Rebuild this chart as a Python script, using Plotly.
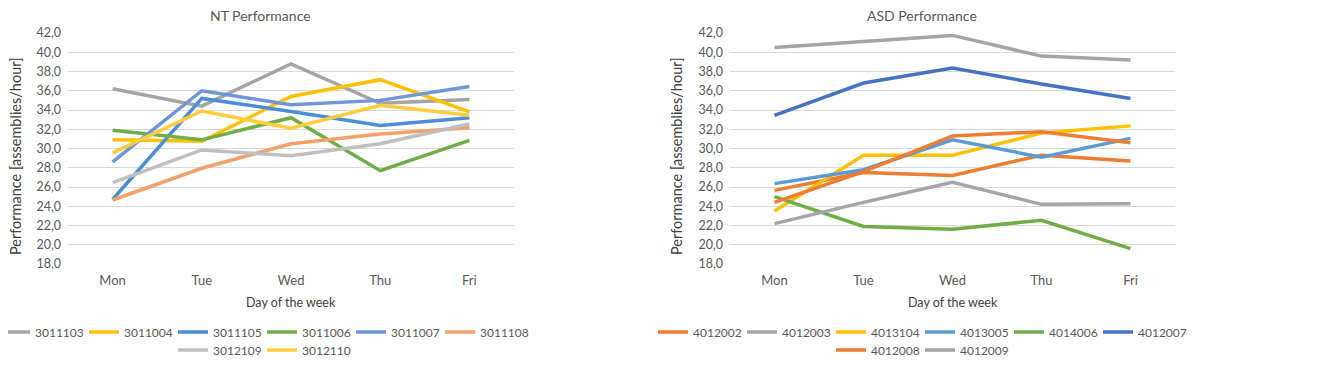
import plotly.graph_objects as go

days = ["Mon", "Tue", "Wed", "Thu", "Fri"]

nt_ids = ["3011103", "3011004", "3011105", "3011006", "3011007", "3011108", "3012109", "3012110"]
nt_values = [
    [36.2, 34.4, 38.8, 34.7, 35.1],
    [30.9, 30.75, 35.4, 37.15, 33.8],
    [24.7, 35.2, 33.85, 32.4, 33.2],
    [31.9, 30.9, 33.2, 27.7, 30.85],
    [28.6, 36.0, 34.55, 35.0, 36.45],
    [24.65, 27.95, 30.5, 31.5, 32.15],
    [26.45, 29.85, 29.25, 30.5, 32.55],
    [29.55, 33.9, 32.1, 34.5, 33.45],
]
nt_colors = ["#A5A5A5", "#FFC000", "#4A8FD6", "#70AD47", "#7096DA", "#F4A06A", "#BFBFBF", "#FFCD3C"]

asd_ids = ["4012002", "4012003", "4013104", "4013005", "4014006", "4012007", "4012008", "4012009"]
asd_values = [
    [25.65, 27.5, 27.2, 29.3, 28.7],
    [40.5, 41.1, 41.75, 39.6, 39.2],
    [23.5, 29.3, 29.3, 31.6, 32.35],
    [26.35, 27.8, 30.9, 29.1, 31.05],
    [25.0, 21.9, 21.6, 22.55, 19.6],
    [33.45, 36.8, 38.35, 36.7, 35.2],
    [24.4, 27.6, 31.3, 31.75, 30.6],
    [22.2, 24.4, 26.5, 24.2, 24.25],
]
asd_colors = ["#ED7D31", "#A5A5A5", "#FFC000", "#5B9BD5", "#70AD47", "#4472C4", "#ED7D31", "#A5A5A5"]

chart_titles = ["NT Performance", "ASD Performance"]
x_title = "Day of the week"
y_title = "Performance [assemblies/hour]"

# page body has an 8px default margin, so the figure starts at (8, 8)
OFF = 8
W, H = 1325 - OFF, 366 - OFF
FONT = "Lato"
TXT = "#595959"

def px(x):
    return (x - OFF) / W

def py(y):
    return 1 - (y - OFF) / H

fig = go.Figure()

dom_left = [px(68), px(514)]
dom_right = [px(730), px(1175)]
dom_y = [py(264), py(33)]

for i, (name, vals, col) in enumerate(zip(nt_ids, nt_values, nt_colors)):
    fig.add_trace(go.Scatter(
        x=days, y=vals, name=name, mode="lines",
        line=dict(color=col, width=3.5),
        xaxis="x", yaxis="y",
        legend="legend" if i < 6 else "legend2",
    ))

for i, (name, vals, col) in enumerate(zip(asd_ids, asd_values, asd_colors)):
    fig.add_trace(go.Scatter(
        x=days, y=vals, name=name, mode="lines",
        line=dict(color=col, width=3.5),
        xaxis="x2", yaxis="y2",
        legend="legend3" if i < 6 else "legend4",
    ))

xax = dict(
    type="category", range=[-0.5, 4.5], showgrid=False, zeroline=False,
    showline=False, ticks="", tickfont=dict(family=FONT, size=13, color=TXT),
    ticklabelstandoff=7, fixedrange=True, automargin=False,
)
yax = dict(
    range=[18, 42], dtick=2, tick0=18, tickformat=".1f", showgrid=True,
    gridcolor="#D9D9D9", gridwidth=1, zeroline=False, showline=False, ticks="",
    tickfont=dict(family=FONT, size=12.5, color=TXT), ticklabelstandoff=6,
    fixedrange=True, automargin=False,
)

legend_common = dict(
    orientation="h", xanchor="center", yanchor="middle",
    font=dict(family=FONT, size=12, color=TXT), bgcolor="rgba(0,0,0,0)",
    entrywidth=44, entrywidthmode="pixels", itemwidth=30, tracegroupgap=0,
)

fig.update_layout(
    width=W, height=H, margin=dict(l=0, r=0, t=0, b=0, autoexpand=False),
    paper_bgcolor="white", plot_bgcolor="white",
    separators=", ",
    font=dict(family=FONT, color=TXT),
    xaxis=dict(**xax, domain=dom_left, anchor="y"),
    yaxis=dict(**yax, domain=dom_y, anchor="x"),
    xaxis2=dict(**xax, domain=dom_right, anchor="y2"),
    yaxis2=dict(**yax, domain=dom_y, anchor="x2"),
    legend=dict(**legend_common, x=px(262), y=py(332)),
    legend2=dict(**legend_common, x=px(262), y=py(350)),
    legend3=dict(**legend_common, x=px(920), y=py(332)),
    legend4=dict(**legend_common, x=px(920), y=py(350)),
    showlegend=True,
)

annotations = []
for title, cx, pcx, ycx in [(chart_titles[0], 260, 291, 15), (chart_titles[1], 922, 953, 676)]:
    annotations.append(dict(
        text=title, x=px(cx), y=py(16), xref="paper", yref="paper",
        xanchor="center", yanchor="middle", showarrow=False,
        font=dict(family=FONT, size=14, color=TXT),
    ))
    annotations.append(dict(
        text=x_title, x=px(pcx), y=py(302), xref="paper", yref="paper",
        xanchor="center", yanchor="middle", showarrow=False,
        font=dict(family=FONT, size=12.5, color="#404040"),
    ))
    annotations.append(dict(
        text=y_title, x=px(ycx), y=py(156), xref="paper", yref="paper",
        xanchor="center", yanchor="middle", showarrow=False, textangle=-90,
        font=dict(family=FONT, size=14.5, color="#404040"),
    ))
fig.update_layout(annotations=annotations)

fig.write_html("out.html")
